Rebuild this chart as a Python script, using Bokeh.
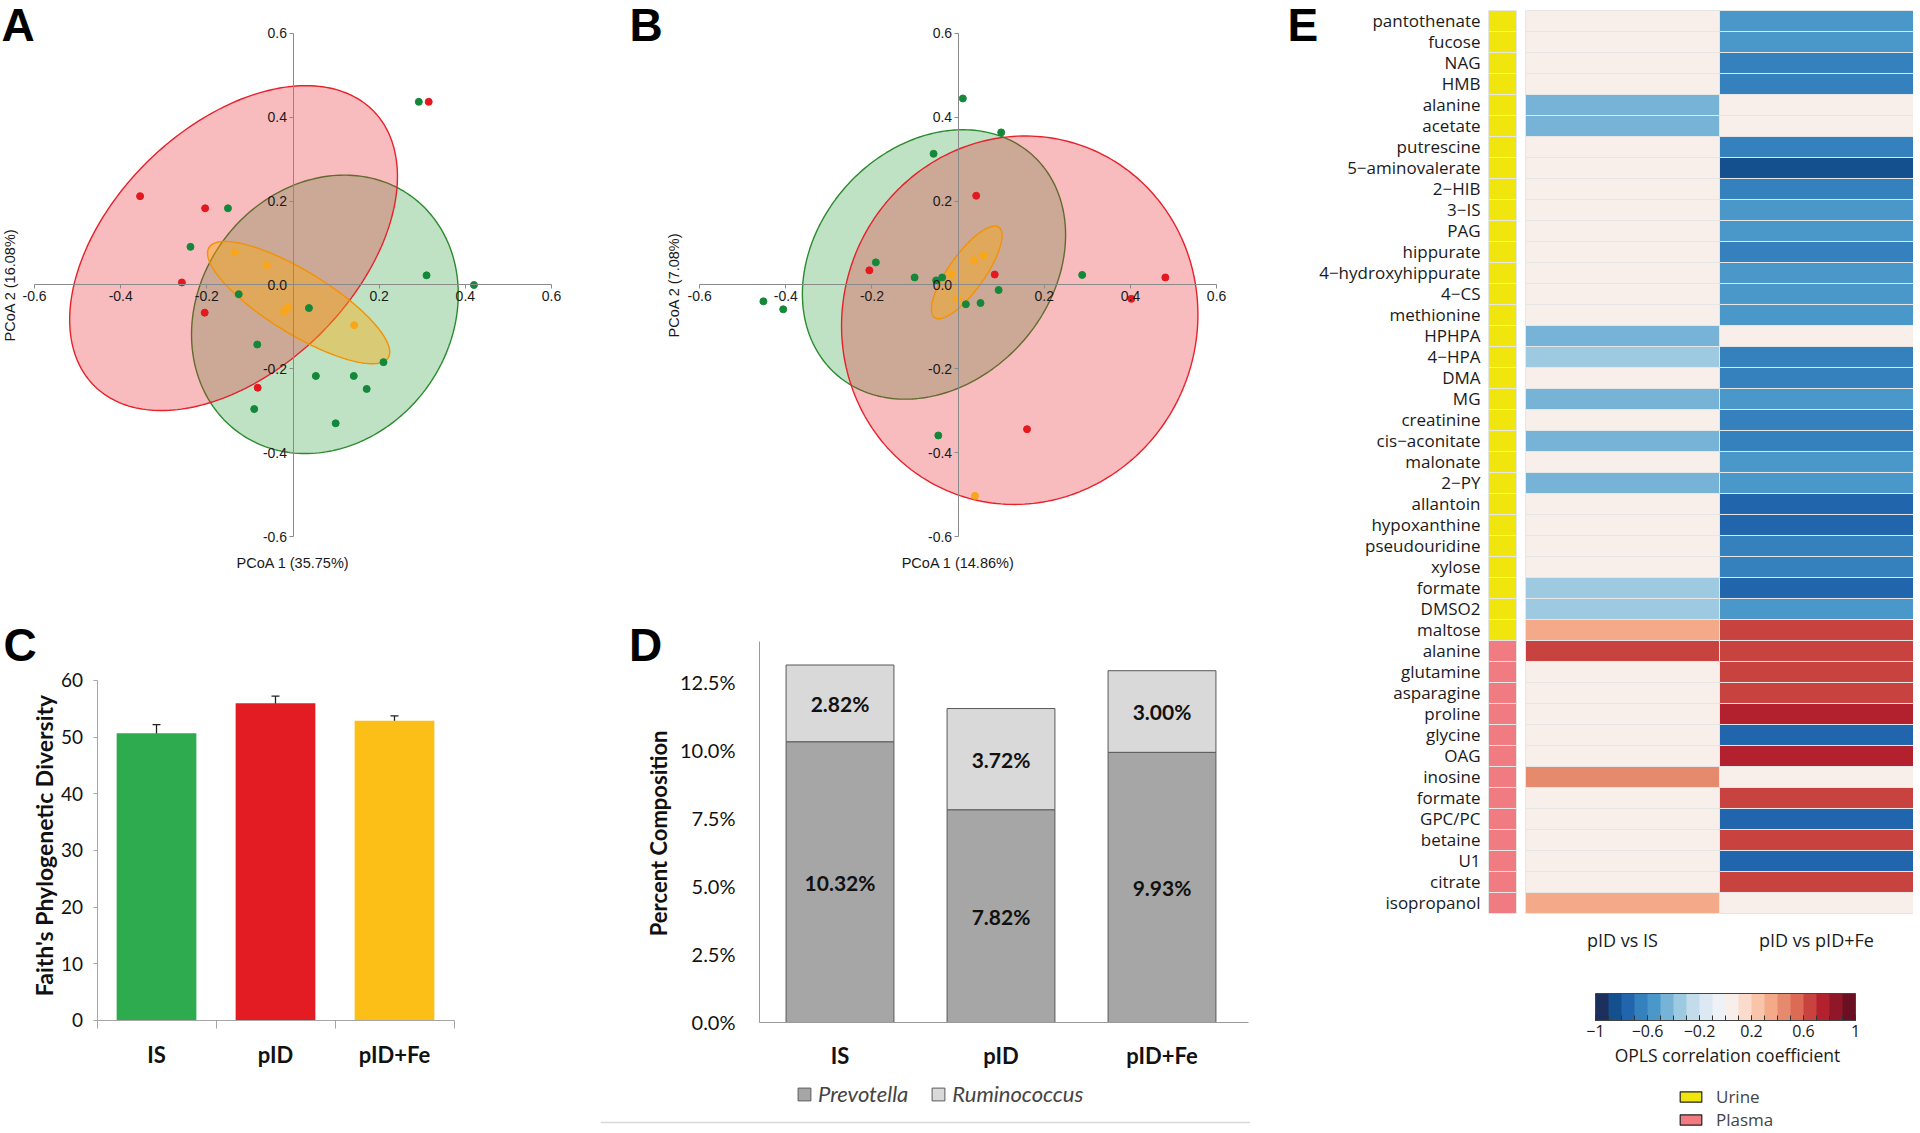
import numpy as np
from bokeh.plotting import figure
from bokeh.models import (ColumnDataSource, FixedTicker, PrintfTickFormatter, Label, LabelSet, Span,
                          Whisker, TeeHead, Legend, LegendItem, LinearColorMapper, ColorBar)
from bokeh.layouts import row, column
from bokeh.transform import transform
from bokeh.core.properties import value
from bokeh.embed import file_html
from bokeh.resources import INLINE

# ---------------- data ----------------
# Panel A  (PCoA 1 35.75 %, PCoA 2 16.08 %)
A_IS_x = [0.292, -0.151, -0.238, -0.126, 0.037, 0.310, 0.420, -0.083, 0.210, 0.053, 0.141, 0.171, -0.090, 0.099]
A_IS_y = [0.437, 0.183, 0.091, -0.022, -0.055, 0.023, 0.000, -0.142, -0.184, -0.217, -0.217, -0.248, -0.296, -0.330]
A_pID_x = [-0.355, -0.204, -0.258, -0.205, -0.082, 0.315]
A_pID_y = [0.212, 0.183, 0.006, -0.066, -0.245, 0.437]
A_Fe_x = [-0.135, -0.061, -0.021, -0.011, 0.142]
A_Fe_y = [0.078, 0.047, -0.063, -0.053, -0.096]
# ellipses: centre x, centre y, semi-axis 1, semi-axis 2, rotation (deg)
A_IS_ell = [0.074, -0.070, 0.346, 0.294, 57.9]
A_pID_ell = [-0.138, 0.088, 0.461, 0.287, 46.2]
A_Fe_ell = [0.013, -0.042, 0.246, 0.074, -32.4]

# Panel B  (PCoA 1 14.86 %, PCoA 2 7.08 %)
B_IS_x = [0.011, 0.100, -0.057, -0.191, -0.101, -0.051, -0.037, 0.094, 0.018, 0.052, 0.288, -0.452, -0.406, -0.046]
B_IS_y = [0.445, 0.364, 0.313, 0.054, 0.018, 0.011, 0.018, -0.012, -0.046, -0.043, 0.024, -0.039, -0.058, -0.359]
B_pID_x = [0.042, -0.206, 0.085, 0.481, 0.402, 0.160]
B_pID_y = [0.213, 0.035, 0.025, 0.018, -0.033, -0.344]
B_Fe_x = [0.059, 0.037, -0.016, -0.001, 0.039]
B_Fe_y = [0.070, 0.059, 0.026, -0.033, -0.503]
B_IS_ell = [-0.056, 0.049, 0.347, 0.276, 51.5]
B_pID_ell = [0.143, -0.084, 0.441, 0.412, 76.6]
B_Fe_ell = [0.020, 0.030, 0.131, 0.042, 55.5]

# Panel C
C_groups = ["IS", "pID", "pID+Fe"]
C_values = [50.7, 56.0, 52.9]
C_errors = [1.5, 1.25, 0.85]

# Panel D
D_groups = ["IS", "pID", "pID+Fe"]
D_prevotella = [10.32, 7.82, 9.93]
D_ruminococcus = [2.82, 3.72, 3.00]

# Panel E
E_names = ["pantothenate", "fucose", "NAG", "HMB", "alanine", "acetate", "putrescine", "5\u2212aminovalerate",
           "2\u2212HIB", "3\u2212IS", "PAG", "hippurate", "4\u2212hydroxyhippurate", "4\u2212CS", "methionine",
           "HPHPA", "4\u2212HPA", "DMA", "MG", "creatinine", "cis\u2212aconitate", "malonate", "2\u2212PY",
           "allantoin", "hypoxanthine", "pseudouridine", "xylose", "formate", "DMSO2", "maltose",
           "alanine", "glutamine", "asparagine", "proline", "glycine", "OAG", "inosine", "formate",
           "GPC/PC", "betaine", "U1", "citrate", "isopropanol"]
E_type = ["Urine"] * 30 + ["Plasma"] * 13
E_pID_vs_IS = [0, 0, 0, 0, -0.45, -0.45, 0, 0, 0, 0, 0, 0, 0, 0, 0,
               -0.45, -0.35, 0, -0.45, 0, -0.45, 0, -0.45, 0, 0, 0, 0, -0.35, -0.35, 0.35,
               0.65, 0, 0, 0, 0, 0, 0.45, 0, 0, 0, 0, 0, 0.35]
E_pID_vs_pIDFe = [-0.55, -0.55, -0.65, -0.65, 0, 0, -0.65, -0.85, -0.65, -0.55, -0.55, -0.65, -0.55, -0.55, -0.55,
                  0, -0.65, -0.65, -0.55, -0.65, -0.65, -0.55, -0.55, -0.75, -0.75, -0.65, -0.65, -0.75, -0.55, 0.65,
                  0.65, 0.65, 0.65, 0.75, -0.75, 0.75, 0, 0.65, -0.75, 0.65, -0.75, 0.65, 0]
E_columns = ["pID vs IS", "pID vs pID+Fe"]
E_cbar_ticks = [-1, -0.6, -0.2, 0.2, 0.6, 1]

# ---------------- styles ----------------
GREEN, RED, ORANGE = "#14883a", "#e3191f", "#f9a61a"
HELV = "Liberation Sans"
CAL = "Lato"
OPEN = "Open Sans"
LETTER = dict(text_font=HELV, text_font_size="46px", text_font_style="bold", text_baseline="middle",
              text_align="left", text_color="black")


def base_fig(**kw):
    p = figure(output_backend="svg", toolbar_location=None, **kw)
    p.grid.visible = False
    p.outline_line_color = None
    return p


def ellipse_xy(params, n=240):
    cx, cy, a, b, ang = params
    t = np.linspace(0, 2 * np.pi, n)
    th = np.radians(ang)
    x = cx + a * np.cos(t) * np.cos(th) - b * np.sin(t) * np.sin(th)
    y = cy + a * np.cos(t) * np.sin(th) + b * np.sin(t) * np.cos(th)
    return x, y


def pcoa_panel(letter, letter_x, x_start, fw, left_border, xlab, ylab, ylab_x, pts, ells):
    p = base_fig(frame_width=fw, frame_height=598, x_range=(x_start, x_start + fw / 430.8),
                 y_range=(-0.7479, 0.6787), min_border_left=left_border, min_border_right=0,
                 min_border_top=0, min_border_bottom=0)
    for prm, fill, line, alpha in ells:
        ex, ey = ellipse_xy(prm)
        p.patch(ex, ey, fill_color=fill, fill_alpha=alpha, line_color=line, line_width=1.4)
    for xs, ys, c in pts:
        p.scatter(xs, ys, size=7, color=c)
    p.xaxis.fixed_location = 0
    p.yaxis.fixed_location = 0
    p.xaxis.ticker = FixedTicker(ticks=[-0.6, -0.4, -0.2, 0.2, 0.4, 0.6])
    p.yaxis.ticker = FixedTicker(ticks=[-0.6, -0.4, -0.2, 0.0, 0.2, 0.4, 0.6])
    p.axis.formatter = PrintfTickFormatter(format="%.1f")
    p.axis.bounds = (-0.6, 0.6)
    p.axis.axis_line_color = "#8a8a8a"
    p.axis.major_tick_line_color = "#8a8a8a"
    p.axis.minor_tick_line_color = None
    p.axis.major_tick_in = 0
    p.axis.major_tick_out = 4
    p.axis.major_label_text_font = HELV
    p.axis.major_label_text_font_size = "14px"
    p.axis.major_label_text_color = "#1a1a1a"
    p.axis.major_label_standoff = 2
    p.add_layout(Label(x=0, y=-0.6644, text=xlab, text_font=HELV, text_font_size="14.5px",
                       text_align="center", text_baseline="middle", text_color="#1a1a1a"))
    p.add_layout(Label(x=ylab_x, y=0, text=ylab, angle=90, angle_units="deg", text_font=HELV,
                       text_font_size="14.5px", text_align="center", text_baseline="middle",
                       text_color="#1a1a1a"))
    p.add_layout(Label(x=letter_x, y=0.6214, text=letter, **LETTER))
    return p


pA = pcoa_panel("A", -0.6767, -0.679, 561, 0, "PCoA 1 (35.75%)", "PCoA 2 (16.08%)", -0.658,
                [(A_IS_x, A_IS_y, GREEN), (A_pID_x, A_pID_y, RED), (A_Fe_x, A_Fe_y, ORANGE)],
                [(A_IS_ell, "#2f9e3a", "#2a8a2e", 0.3), (A_pID_ell, "#e8202a", "#e8202a", 0.3),
                 (A_Fe_ell, "#ffa800", "#f39200", 0.4)])
pB = pcoa_panel("B", -0.7628, -0.7837, 610, 59, "PCoA 1 (14.86%)", "PCoA 2 (7.08%)", -0.6606,
                [(B_IS_x, B_IS_y, GREEN), (B_pID_x, B_pID_y, RED), (B_Fe_x, B_Fe_y, ORANGE)],
                [(B_IS_ell, "#2f9e3a", "#2a8a2e", 0.3), (B_pID_ell, "#e8202a", "#e8202a", 0.3),
                 (B_Fe_ell, "#ffa800", "#f39200", 0.4)])

# ---------------- Panel C ----------------
pC = base_fig(frame_width=456, frame_height=513, x_range=(-0.811, 3.021), y_range=(-18.53, 72.0),
              min_border_left=0, min_border_right=0, min_border_top=14, min_border_bottom=0)
cx = np.arange(len(C_groups)) + 0.5
cv = np.array(C_values)
ce = np.array(C_errors)
csrc = ColumnDataSource(dict(x=cx, top=cv, upper=cv + ce, lower=cv - ce,
                             color=["#2eaa4f", "#e31b23", "#fcbf17"]))
pC.vbar(x="x", top="top", width=0.67, fill_color="color", line_color=None, source=csrc)
pC.add_layout(Whisker(source=csrc, base="x", upper="upper", lower="lower", line_color="#222", line_width=1.3,
                      upper_head=TeeHead(size=8, line_color="#222", line_width=1.3),
                      lower_head=TeeHead(size=8, line_color="#222", line_width=1.3)))
pC.xaxis.fixed_location = 0
pC.yaxis.fixed_location = 0
pC.yaxis.ticker = FixedTicker(ticks=[0, 10, 20, 30, 40, 50, 60])
pC.yaxis.bounds = (0, 60)
pC.xaxis.bounds = (0, 3)
pC.xaxis.ticker = FixedTicker(ticks=list(cx), minor_ticks=[0, 1, 2, 3])
pC.xaxis.major_label_overrides = {float(x): g for x, g in zip(cx, C_groups)}
pC.xaxis.major_tick_line_color = None
pC.xaxis.major_tick_out = 0
pC.xaxis.minor_tick_line_color = "#a6a6a6"
pC.xaxis.minor_tick_in = 0
pC.xaxis.minor_tick_out = 8
pC.yaxis.minor_tick_line_color = None
pC.yaxis.major_tick_in = 0
pC.yaxis.major_tick_out = 4
pC.axis.axis_line_color = "#a6a6a6"
pC.yaxis.major_tick_line_color = "#a6a6a6"
pC.yaxis.major_label_text_font = CAL
pC.yaxis.major_label_text_font_size = "19px"
pC.yaxis.major_label_standoff = 10
pC.xaxis.major_label_text_font = CAL
pC.xaxis.major_label_text_font_size = "22px"
pC.xaxis.major_label_text_font_style = "bold"
pC.xaxis.major_label_standoff = 13
pC.axis.major_label_text_color = "#111"
pC.add_layout(Label(x=-0.4496, y=30.88, text="Faith's Phylogenetic Diversity", angle=90, angle_units="deg",
                    text_font=CAL, text_font_size="23px", text_font_style="bold", text_align="center",
                    text_baseline="middle", text_color="#111"))
pC.add_layout(Label(x=-0.7857, y=66.26, text="C", **LETTER))

# ---------------- Panel D ----------------
pD = base_fig(frame_width=650, frame_height=513, x_range=(-0.9876, 3.0497), y_range=(-3.787, 15.07),
              min_border_left=144, min_border_right=0, min_border_top=14, min_border_bottom=0)
dx = np.arange(len(D_groups)) + 0.5
dsrc = ColumnDataSource(dict(x=dx, Prevotella=D_prevotella, Ruminococcus=D_ruminococcus))
rs = pD.vbar_stack(["Prevotella", "Ruminococcus"], x="x", width=0.67, fill_color=["#a6a6a6", "#d9d9d9"],
                   line_color="#595959", line_width=1, source=dsrc)
prev = np.array(D_prevotella)
rum = np.array(D_ruminococcus)
lsrc = ColumnDataSource(dict(x=np.concatenate([dx, dx]), y=np.concatenate([prev / 2, prev + rum / 2]),
                             text=[f"{v:.2f}%" for v in list(prev) + list(rum)]))
pD.add_layout(LabelSet(x="x", y="y", text="text", source=lsrc, text_align="center", text_baseline="middle",
                       text_font=value(CAL), text_font_style="bold", text_font_size="21px", text_color="#111"))
pD.xaxis.fixed_location = 0
pD.yaxis.fixed_location = 0
pD.yaxis.bounds = (0, 14)
pD.xaxis.bounds = (0, 3.04)
pD.yaxis.ticker = FixedTicker(ticks=[0, 2.5, 5, 7.5, 10, 12.5])
pD.yaxis.formatter = PrintfTickFormatter(format="%.1f%%")
pD.xaxis.ticker = FixedTicker(ticks=list(dx))
pD.xaxis.major_label_overrides = {float(x): g for x, g in zip(dx, D_groups)}
pD.axis.major_tick_line_color = None
pD.axis.major_tick_out = 0
pD.axis.minor_tick_line_color = None
pD.axis.axis_line_color = "#9a9a9a"
pD.yaxis.major_label_text_font = CAL
pD.yaxis.major_label_text_font_size = "20px"
pD.yaxis.major_label_standoff = 24
pD.xaxis.major_label_text_font = CAL
pD.xaxis.major_label_text_font_size = "22px"
pD.xaxis.major_label_text_font_style = "bold"
pD.xaxis.major_label_standoff = 20
pD.axis.major_label_text_color = "#111"
pD.add_layout(Label(x=-0.6304, y=6.95, text="Percent Composition", angle=90, angle_units="deg",
                    text_font=CAL, text_font_size="22px", text_font_style="bold", text_align="center",
                    text_baseline="middle", text_color="#111"))
pD.add_layout(Legend(items=[LegendItem(label="Prevotella", renderers=[rs[0]]),
                            LegendItem(label="Ruminococcus", renderers=[rs[1]])],
                     orientation="horizontal", location=(196, 18), label_text_font=CAL,
                     label_text_font_style="italic", label_text_font_size="22px", glyph_width=16,
                     glyph_height=16, spacing=22, padding=0, margin=0, label_standoff=6,
                     border_line_color=None, background_fill_alpha=0))
pD.add_layout(Span(location=-3.68, dimension="width", line_color="#d9d9d9", line_width=1.5))
pD.add_layout(Label(x=-0.8106, y=13.88, text="D", **LETTER))

# ---------------- Panel E ----------------
palette = ["#1d2f5c", "#14508e", "#2166ac", "#3581bd", "#4a97c9", "#76b3d6", "#9ecae1", "#c3dcec", "#dce9f2",
           "#eef2f6", "#f8efea", "#fadbcc", "#f8c4aa", "#f4aa88", "#e68a6e", "#dc6a55", "#c8433f", "#b3202e",
           "#901728", "#6b1023"]
mapper = LinearColorMapper(palette=palette, low=-1, high=1)
n = len(E_names)
pE = base_fig(frame_width=643, frame_height=1131, x_range=(-0.8144, 2.5), y_range=(52.881, -0.976),
              min_border_left=20, min_border_right=0, min_border_top=0, min_border_bottom=0)
rows = np.arange(n)
hsrc = ColumnDataSource(dict(x=np.repeat([1, 2], n), y=np.concatenate([rows, rows]),
                             val=np.concatenate([E_pID_vs_IS, E_pID_vs_pIDFe])))
pE.rect(x="x", y="y", width=1, height=1, fill_color=transform("val", mapper), line_color="#e6e6e6",
        line_width=1, source=hsrc)
type_color = {"Urine": "#f0e60e", "Plasma": "#f07c82"}
tsrc = ColumnDataSource(dict(x=np.full(n, 0.3814), y=rows, color=[type_color[t] for t in E_type]))
pE.rect(x="x", y="y", width=0.1443, height=1, fill_color="color", line_color="#e6e6e6", line_width=1,
        source=tsrc)
# renderer that only supplies the legend swatches (outlined), not drawn in the heatmap
rkey = pE.rect(x="x", y="y", width=0.1443, height=1, fill_color="color", line_color="#222", line_width=1.2,
               source=tsrc, visible=False)
pE.yaxis.fixed_location = 0.3093
pE.xaxis.fixed_location = n - 0.5
pE.yaxis.ticker = FixedTicker(ticks=list(range(n)))
pE.yaxis.major_label_overrides = {i: nm for i, nm in enumerate(E_names)}
pE.xaxis.ticker = FixedTicker(ticks=[1, 2])
pE.xaxis.major_label_overrides = {1: E_columns[0], 2: E_columns[1]}
pE.axis.major_tick_line_color = None
pE.axis.major_tick_out = 0
pE.axis.minor_tick_line_color = None
pE.axis.axis_line_color = None
pE.axis.major_label_text_font = OPEN
pE.yaxis.major_label_text_font_size = "17px"
pE.xaxis.major_label_text_font_size = "18px"
pE.axis.major_label_text_color = "#1a1a1a"
pE.yaxis.major_label_standoff = 8
pE.xaxis.major_label_standoff = 15
cb = ColorBar(color_mapper=mapper, orientation="horizontal", width=260, height=27, location=(325, 92),
              ticker=FixedTicker(ticks=E_cbar_ticks, minor_ticks=list(np.round(np.linspace(-1, 1, 21), 2))),
              major_label_overrides={t: (f"{t:g}".replace("-", "\u2212")) for t in E_cbar_ticks},
              major_label_text_font=OPEN, major_label_text_font_size="16px", major_label_text_color="#1a1a1a",
              major_tick_line_color="#333", major_tick_in=5, major_tick_out=0,
              minor_tick_line_color="#333", minor_tick_in=5, minor_tick_out=0,
              bar_line_color="#444", padding=0, label_standoff=4, background_fill_alpha=0)
pE.add_layout(cb)
pE.add_layout(Label(x=1.541, y=49.26, text="OPLS correlation coefficient", text_font=OPEN,
                    text_font_size="17.5px", text_align="center", text_baseline="middle", text_color="#1a1a1a"))
pE.add_layout(Legend(items=[LegendItem(label="Urine", renderers=[rkey], index=0),
                            LegendItem(label="Plasma", renderers=[rkey], index=30)],
                     orientation="vertical", location=(407, 0), label_text_font=OPEN,
                     label_text_font_size="17px", glyph_width=27, glyph_height=13, spacing=0,
                     label_height=17, padding=0, margin=0, label_standoff=12, border_line_color=None,
                     background_fill_alpha=0))
pE.add_layout(Label(x=-0.7268, y=0.2143, text="E", **LETTER))

layout = row(column(row(pA, pB), row(pC, pD)), pE)
open("out.html", "w").write(file_html(layout, INLINE))
